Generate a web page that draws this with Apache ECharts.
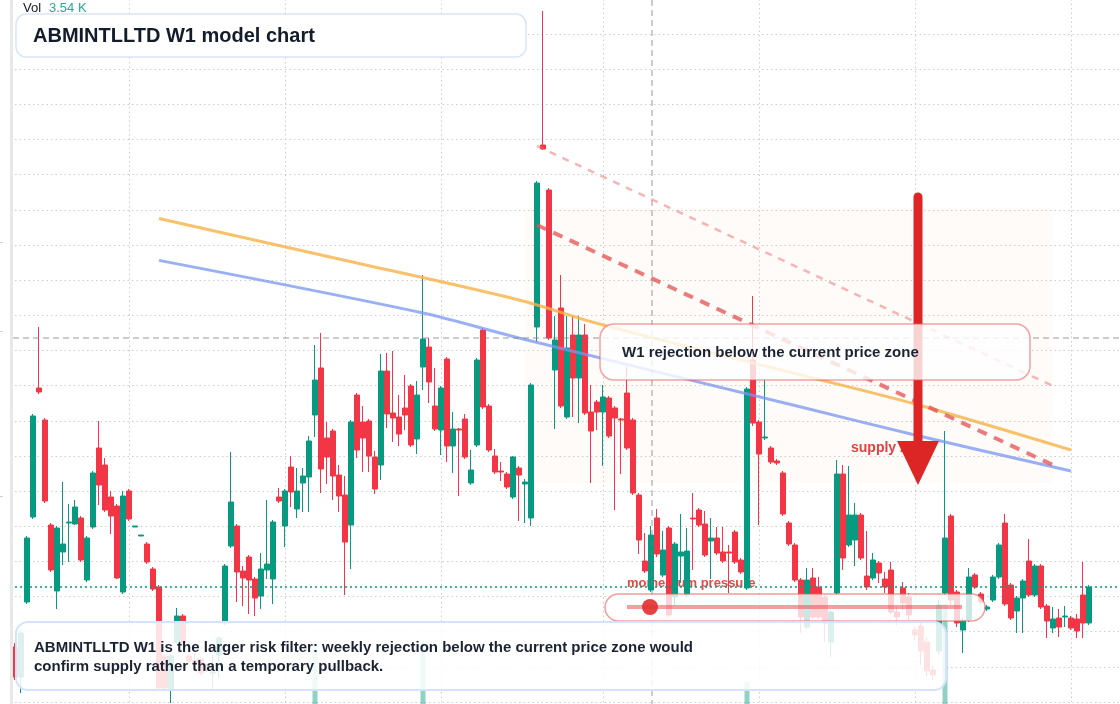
<!DOCTYPE html>
<html>
<head>
<meta charset="utf-8">
<title>ABMINTLLTD W1 model chart</title>
<script src="https://cdn.jsdelivr.net/npm/echarts@6/dist/echarts.min.js"></script>
<style>
  html, body { margin: 0; padding: 0; background: #ffffff; }
  #chart { width: 1120px; height: 704px; }
</style>
</head>
<body>
<div id="chart"></div>
<script>
// weekly candles, oldest first
const opens = [
  75.8, 72.8, 80.3, 88.8, 101.7, 98.5, 88.0, 81.4, 85.3, 88.2,
  88.1, 88.7, 82.5, 87.8, 95.7, 94.0, 90.8, 89.9, 81.3, 91.4,
  87.8, 86.9, 86.1, 83.6, 81.8, 74.9, 71.6, 76.3, 78.9, 74.9,
  74.5, 74.6, 74.0, 73.2, 75.0, 78.2, 85.9, 87.9, 83.4, 84.8,
  82.6, 80.9, 83.5, 82.6, 90.8, 87.9, 93.8, 89.6, 92.2, 92.8,
  99.0, 103.7, 96.7, 97.4, 93.0, 91.0, 88.0, 101.0, 98.3, 98.4,
  94.8, 94.0, 103.4, 99.2, 98.8, 99.7, 101.9, 96.6, 103.8, 105.8,
  99.9, 97.5, 104.6, 95.9, 97.6, 98.6, 92.2, 96.0, 107.5, 99.9,
  94.9, 93.4, 93.1, 90.8, 93.7, 92.1, 88.7, 107.8, 126.0, 121.5,
  103.5, 109.7, 98.8, 107.0, 102.7, 107.0, 99.3, 100.3, 99.3, 100.7,
  99.7, 98.6, 101.2, 98.5, 91.0, 84.4, 81.5, 88.7, 83.0, 87.7,
  80.8, 84.9, 81.0, 88.7, 89.5, 88.1, 86.4, 86.7, 85.3, 85.3,
  87.3, 84.5, 81.7, 104.5, 98.3, 96.7, 95.7, 94.4, 93.2, 88.2,
  86.0, 82.5, 77.8, 82.7, 81.8, 80.8, 76.3, 81.2, 93.1, 86.0,
  86.5, 89.0, 82.9, 82.7, 84.2, 82.6, 83.5, 79.3, 81.7, 80.8,
  77.5, 77.9, 76.3, 73.5, 75.4, 81.2, 88.9, 81.3, 77.5, 78.5,
  83.0, 81.1, 79.6, 80.5, 82.8, 88.2, 82.0, 79.4, 80.7, 84.4,
  81.0, 83.9, 79.9, 77.7, 78.7, 78.8, 78.7, 78.6, 81.0, 78.2
];
const closes = [
  72.8, 77.2, 86.7, 98.9, 101.3, 90.4, 83.5, 87.7, 86.1, 88.3,
  89.8, 84.5, 86.7, 93.2, 92.0, 89.5, 88.9, 82.7, 90.9, 88.6,
  87.9, 87.0, 84.3, 81.6, 71.7, 71.7, 74.9, 78.9, 76.2, 74.4,
  74.2, 73.2, 73.5, 73.3, 76.7, 83.9, 90.3, 83.3, 82.7, 82.5,
  80.7, 83.6, 84.1, 88.3, 90.4, 91.4, 91.3, 91.4, 92.9, 96.4,
  102.5, 93.6, 94.8, 92.9, 90.9, 86.3, 98.3, 95.5, 96.7, 94.9,
  91.6, 103.4, 99.1, 98.7, 97.1, 99.0, 96.0, 101.0, 106.6, 102.3,
  97.6, 101.7, 95.9, 97.6, 97.5, 94.8, 93.5, 104.5, 99.8, 95.5,
  93.3, 93.3, 91.8, 94.8, 93.0, 92.3, 102.0, 122.2, 125.6, 106.7,
  106.5, 99.9, 105.7, 102.7, 107.0, 99.2, 97.4, 99.3, 100.8, 96.9,
  98.7, 98.5, 95.7, 91.2, 86.5, 83.4, 87.0, 85.1, 85.5, 79.0,
  86.1, 85.3, 85.4, 88.6, 88.0, 85.0, 86.7, 85.2, 84.4, 85.2,
  84.3, 83.3, 101.6, 98.2, 95.1, 96.8, 94.3, 94.2, 89.1, 86.1,
  82.5, 78.8, 82.5, 78.8, 78.8, 78.2, 79.3, 93.1, 84.7, 89.0,
  89.0, 84.7, 81.8, 84.5, 83.2, 81.8, 79.3, 78.8, 80.2, 79.0,
  77.0, 75.4, 73.4, 73.0, 80.0, 86.7, 80.5, 78.2, 78.5, 82.8,
  81.8, 80.3, 79.8, 82.8, 86.0, 80.1, 78.7, 80.7, 82.4, 81.0,
  83.9, 79.8, 78.4, 78.6, 77.8, 78.9, 77.7, 77.4, 78.2, 81.8
];
const lows = [
  72.5, 71.2, 80.1, 88.6, 101.1, 90.2, 83.3, 79.6, 84.0, 84.3,
  88.0, 84.3, 82.3, 87.6, 90.0, 89.3, 87.1, 82.6, 81.1, 88.4,
  87.8, 86.9, 84.1, 81.4, 71.5, 71.5, 70.2, 76.1, 76.0, 74.2,
  74.0, 73.0, 73.3, 71.5, 72.7, 78.0, 85.7, 80.3, 79.9, 79.1,
  78.9, 79.6, 82.6, 80.1, 90.2, 85.8, 89.8, 88.7, 89.3, 89.3,
  96.8, 91.2, 92.1, 90.5, 89.3, 81.0, 83.6, 94.7, 93.3, 93.3,
  91.1, 92.5, 97.7, 96.3, 95.9, 97.5, 95.8, 95.1, 101.5, 100.2,
  97.4, 95.0, 94.3, 93.2, 90.9, 94.6, 92.0, 95.8, 99.6, 95.3,
  93.1, 92.4, 91.6, 90.6, 88.4, 88.2, 87.9, 106.3, 125.5, 106.5,
  97.6, 99.7, 98.6, 98.8, 98.2, 99.0, 92.2, 97.5, 93.9, 96.7,
  89.5, 93.1, 95.5, 91.0, 85.1, 83.2, 81.3, 84.8, 82.8, 78.8,
  79.9, 82.2, 80.8, 83.5, 87.8, 84.8, 82.6, 85.0, 84.2, 81.2,
  84.1, 83.1, 81.5, 97.9, 88.0, 96.5, 94.1, 94.0, 88.9, 85.9,
  82.3, 77.2, 77.6, 78.6, 78.6, 76.3, 74.8, 81.0, 83.5, 85.8,
  83.9, 84.5, 81.5, 82.5, 82.2, 81.2, 79.1, 78.0, 79.5, 78.5,
  76.5, 74.0, 72.9, 72.5, 75.0, 81.0, 80.0, 77.8, 75.2, 78.3,
  81.6, 80.1, 79.4, 80.3, 82.6, 79.9, 78.5, 77.2, 77.2, 80.8,
  80.8, 79.6, 76.7, 77.2, 76.8, 77.8, 77.5, 76.7, 76.7, 78.0
];
const highs = [
  76.2, 77.5, 86.9, 99.1, 107.8, 98.7, 88.2, 87.9, 92.3, 90.1,
  90.5, 88.9, 86.9, 93.4, 98.4, 94.7, 91.4, 90.1, 91.4, 91.6,
  87.9, 87.0, 86.3, 83.8, 82.0, 75.1, 75.1, 79.7, 79.1, 75.1,
  75.2, 74.8, 74.2, 75.0, 76.9, 84.1, 95.3, 88.1, 83.9, 85.0,
  82.8, 85.2, 90.5, 88.5, 91.7, 91.6, 94.9, 93.7, 93.7, 96.9,
  106.0, 107.2, 98.3, 97.6, 94.0, 92.9, 98.5, 101.2, 99.9, 98.6,
  95.4, 105.1, 105.2, 105.4, 101.0, 103.0, 102.1, 102.4, 113.0, 106.7,
  103.7, 101.9, 104.8, 99.3, 97.7, 99.1, 95.5, 104.7, 107.7, 100.1,
  95.6, 94.3, 93.3, 94.9, 93.9, 92.6, 102.2, 122.4, 139.4, 121.7,
  108.9, 113.0, 108.9, 108.9, 108.9, 108.1, 102.0, 100.5, 102.0, 100.9,
  99.9, 98.7, 103.8, 98.7, 91.2, 87.2, 87.9, 89.6, 87.4, 87.9,
  86.3, 89.1, 87.7, 91.2, 89.7, 89.4, 88.7, 87.8, 87.8, 86.0,
  87.5, 84.7, 101.8, 110.9, 98.5, 102.6, 95.9, 94.6, 93.4, 88.4,
  86.2, 82.7, 83.7, 83.7, 82.8, 81.0, 79.5, 94.5, 94.0, 93.9,
  90.2, 89.2, 87.4, 85.2, 84.4, 83.3, 84.3, 79.8, 82.3, 81.2,
  77.8, 78.2, 76.8, 74.0, 80.5, 97.4, 89.1, 81.5, 78.7, 83.7,
  83.2, 81.3, 80.0, 83.0, 86.2, 89.1, 82.2, 80.9, 82.6, 86.6,
  84.1, 84.1, 80.1, 79.8, 79.6, 79.9, 78.9, 79.1, 84.3, 82.0
];
// volume in thousands
const volumes = [
  2.1, 2.4, 3.0, 4.2, 3.6, 3.1, 2.2, 2.5, 1.8, 1.4,
  1.2, 1.9, 1.7, 2.6, 2.9, 2.0, 1.5, 2.7, 3.3, 1.6,
  0.9, 0.8, 1.1, 1.5, 4.1, 2.3, 2.0, 1.9, 1.7, 1.0,
  0.9, 1.1, 0.8, 1.0, 1.3, 2.6, 3.8, 2.4, 1.2, 1.5,
  1.3, 1.6, 1.9, 2.5, 1.0, 1.8, 1.7, 1.3, 1.1, 2.2,
  7.9, 4.4, 1.9, 2.1, 1.4, 2.3, 3.5, 2.2, 1.6, 1.8,
  1.5, 3.9, 2.4, 1.7, 1.3, 1.2, 2.0, 2.4, 7.9, 2.6,
  1.8, 2.0, 3.1, 1.5, 1.4, 1.9, 1.1, 3.6, 3.0, 1.9,
  1.2, 0.9, 1.0, 1.6, 1.1, 1.0, 4.3, 4.5, 4.4, 4.2,
  3.0, 3.4, 2.8, 2.1, 2.0, 2.6, 1.7, 1.2, 1.5, 1.6,
  1.4, 1.1, 2.2, 2.5, 2.3, 1.3, 2.0, 1.6, 1.2, 2.4,
  1.9, 1.1, 1.6, 1.2, 0.9, 1.3, 1.0, 0.9, 0.8, 1.1,
  1.2, 0.9, 6.0, 4.1, 2.2, 1.5, 1.0, 0.8, 1.9, 1.6,
  1.7, 2.0, 1.8, 1.5, 1.2, 1.4, 1.3, 4.0, 3.2, 1.9,
  1.5, 1.6, 1.3, 1.1, 0.9, 1.0, 1.4, 0.9, 1.2, 1.1,
  1.0, 1.3, 1.5, 0.8, 2.1, 9.8, 4.2, 1.8, 1.2, 2.0,
  1.1, 0.9, 0.7, 1.2, 1.8, 3.1, 1.9, 1.1, 1.3, 1.6,
  1.2, 1.7, 1.4, 0.8, 0.9, 0.7, 0.8, 1.0, 2.4, 3.54
];

// moving averages, sampled points [week index, price]
const maSlow = [[24, 118.65], [54, 114.6], [84, 110.5], [98, 108.0], [131, 103.0], [150, 100.1], [176, 95.5]];
const maFast = [[24, 114.46], [68, 109.2], [84, 106.7], [131, 99.8], [150, 97.0], [176, 93.4]];

// drawn levels
const upperTrend = [[87, 125.9], [173, 101.9]];
const rejectTrend = [[87, 118.0], [173, 94.0]];
const supplyZone = [[85, 119.7], [173, 92.2]];
const halfYearWeeks = [19, 45, 71, 98, 124, 150, 176];

// week labels (a few empty slots on the right)
const weeks = [];
const start = new Date(Date.UTC(2021, 7, 23));
for (let i = 0; i < 186; i++) {
  const d = new Date(start.getTime() + i * 7 * 86400000);
  weeks.push(d.toISOString().slice(0, 10));
}

const UP = '#089981';
const DOWN = '#f23645';
const FONT = '"Liberation Sans", Arial, sans-serif';

const candles = opens.map((o, i) => [o, closes[i], lows[i], highs[i]]);
const volumeBars = volumes.map((v, i) => ({
  value: v,
  itemStyle: { color: closes[i] >= opens[i] ? 'rgba(8,153,129,0.45)' : 'rgba(242,54,69,0.45)' }
}));
const lastClose = closes[closes.length - 1];

const chart = echarts.init(document.getElementById('chart'));

const gridDots = { color: '#cdcdcd', width: 1, type: [1.5, 3] };

const option = {
  animation: false,
  backgroundColor: '#ffffff',
  grid: [
    // price pane runs a little past the right edge, volume pane past the bottom
    { left: 15, width: 1110, top: -1, height: 703, outerBoundsMode: 'none', containLabel: false },
    { left: 15, width: 1110, top: 600, height: 204, outerBoundsMode: 'none', containLabel: false }
  ],
  xAxis: [
    {
      type: 'category', data: weeks, boundaryGap: false, gridIndex: 0,
      axisLine: { show: false }, axisTick: { show: false }, axisLabel: { show: false },
      splitLine: { show: true, interval: (idx) => halfYearWeeks.includes(idx), lineStyle: gridDots }
    },
    {
      type: 'category', data: weeks, boundaryGap: false, gridIndex: 1,
      axisLine: { show: false }, axisTick: { show: false }, axisLabel: { show: false },
      splitLine: { show: false }
    }
  ],
  yAxis: [
    {
      type: 'value', gridIndex: 0, min: 70.3, max: 140.6, interval: 3.515,
      axisLine: { show: false }, axisTick: { show: false }, axisLabel: { show: false },
      splitLine: { show: true, lineStyle: gridDots }
    },
    {
      type: 'value', gridIndex: 1, min: 0, max: 10,
      axisLine: { show: false }, axisTick: { show: false }, axisLabel: { show: false },
      splitLine: { show: false }
    }
  ],
  series: [
    {
      name: 'Vol',
      type: 'bar',
      xAxisIndex: 1,
      yAxisIndex: 1,
      barWidth: 5,
      z: 1,
      data: volumeBars
    },
    {
      name: 'ABMINTLLTD',
      type: 'candlestick',
      xAxisIndex: 0,
      yAxisIndex: 0,
      barWidth: 5,
      clip: false,
      z: 2,
      data: candles,
      itemStyle: {
        color: UP, color0: DOWN, borderColor: UP, borderColor0: DOWN, borderWidth: 1
      },
      markArea: {
        silent: true,
        itemStyle: { color: 'rgba(245,190,150,0.06)' },
        data: [[{ coord: supplyZone[0] }, { coord: supplyZone[1] }]]
      },
      markLine: {
        silent: true,
        symbol: ['none', 'none'],
        label: { show: false },
        data: [
          { yAxis: lastClose, lineStyle: { color: UP, width: 1.5, type: [2, 3] } },
          [
            { coord: upperTrend[0], lineStyle: { color: 'rgba(240,110,110,0.5)', width: 2.5, type: [7, 7] } },
            { coord: upperTrend[1] }
          ],
          [
            { coord: rejectTrend[0], lineStyle: { color: 'rgba(228,80,80,0.75)', width: 4, type: [10, 8] } },
            { coord: rejectTrend[1] }
          ]
        ]
      }
    },
    {
      name: 'MA slow',
      type: 'line',
      data: maSlow,
      smooth: 0.3,
      showSymbol: false,
      z: 3,
      lineStyle: { color: 'rgba(247,178,70,0.8)', width: 3 }
    },
    {
      name: 'MA fast',
      type: 'line',
      data: maFast,
      smooth: 0.3,
      showSymbol: false,
      z: 3,
      lineStyle: { color: 'rgba(120,150,240,0.75)', width: 3 }
    }
  ],
  graphic: [
    // price scale edge
    { type: 'rect', z: 20, shape: { x: 10, y: 0, width: 3, height: 704 }, style: { fill: '#e8e8e8' } },
    { type: 'rect', z: 20, shape: { x: 0, y: 242, width: 3, height: 1 }, style: { fill: '#d0d0d0' } },
    { type: 'rect', z: 20, shape: { x: 0, y: 331, width: 3, height: 1 }, style: { fill: '#d0d0d0' } },
    { type: 'rect', z: 20, shape: { x: 0, y: 496, width: 3, height: 1 }, style: { fill: '#d0d0d0' } },

    // labels under the candles
    { type: 'text', z: 1, x: 851, y: 448, style: { text: 'supply zone', font: 'bold 14px ' + FONT, fill: '#e23b3b', verticalAlign: 'middle' } },
    { type: 'text', z: 1, x: 627, y: 583, style: { text: 'momentum pressure', font: 'bold 13px ' + FONT, fill: 'rgba(226,52,52,0.9)', verticalAlign: 'middle' } },

    // crosshair
    { type: 'line', z: 5, shape: { x1: 652, y1: 0, x2: 652, y2: 704 }, style: { stroke: 'rgba(120,120,120,0.75)', lineWidth: 1, lineDash: [6, 4] } },
    { type: 'line', z: 5, shape: { x1: 13, y1: 338, x2: 1120, y2: 338 }, style: { stroke: 'rgba(120,120,120,0.75)', lineWidth: 1, lineDash: [6, 4] } },

    // arrow
    { type: 'line', z: 6, shape: { x1: 918, y1: 197, x2: 918, y2: 450 }, style: { stroke: '#dc2626', lineWidth: 9, lineCap: 'round' } },
    { type: 'polygon', z: 6, shape: { points: [[897, 441], [939, 441], [918, 485]] }, style: { fill: '#dc2626' } },

    // title
    { type: 'rect', z: 10, shape: { x: 16, y: 14, width: 510, height: 43, r: 10 }, style: { fill: '#ffffff', stroke: '#d7e5fb', lineWidth: 1.5 } },
    { type: 'text', z: 11, x: 33, y: 36, style: { text: 'ABMINTLLTD W1 model chart', font: 'bold 20px ' + FONT, fill: '#131c2b', verticalAlign: 'middle' } },
    { type: 'text', z: 11, x: 23, y: 8, style: { text: 'Vol', font: '13px ' + FONT, fill: '#131722', verticalAlign: 'middle' } },
    { type: 'text', z: 11, x: 49, y: 8, style: { text: '3.54 K', font: '13px ' + FONT, fill: '#22ab94', verticalAlign: 'middle' } },

    // rejection note
    { type: 'rect', z: 10, shape: { x: 600, y: 324, width: 430, height: 56, r: 14 }, style: { fill: 'rgba(255,255,255,0.8)', stroke: 'rgba(232,90,90,0.55)', lineWidth: 1.5 } },
    { type: 'text', z: 11, x: 622, y: 353, style: { text: 'W1 rejection below the current price zone', font: 'bold 15px ' + FONT, fill: '#1b2333', verticalAlign: 'middle' } },

    // momentum pill
    { type: 'rect', z: 10, shape: { x: 605, y: 594, width: 380, height: 27, r: 13.5 }, style: { fill: 'rgba(255,255,255,0.78)', stroke: 'rgba(232,90,90,0.6)', lineWidth: 1.5 } },
    { type: 'line', z: 11, shape: { x1: 627, y1: 607, x2: 962, y2: 607 }, style: { stroke: 'rgba(230,80,80,0.55)', lineWidth: 4 } },
    { type: 'circle', z: 11, shape: { cx: 650, cy: 607, r: 8 }, style: { fill: 'rgba(226,45,45,0.9)' } },

    // bottom note
    { type: 'rect', z: 10, shape: { x: 16, y: 622, width: 930, height: 68, r: 12 }, style: { fill: 'rgba(255,255,255,0.86)', stroke: '#d4e3fa', lineWidth: 2 } },
    { type: 'text', z: 11, x: 34, y: 648, style: { text: 'ABMINTLLTD W1 is the larger risk filter: weekly rejection below the current price zone would', font: 'bold 15px ' + FONT, fill: '#1b2333', verticalAlign: 'middle' } },
    { type: 'text', z: 11, x: 34, y: 667, style: { text: 'confirm supply rather than a temporary pullback.', font: 'bold 15px ' + FONT, fill: '#1b2333', verticalAlign: 'middle' } }
  ]
};

chart.setOption(option);
</script>
</body>
</html>
